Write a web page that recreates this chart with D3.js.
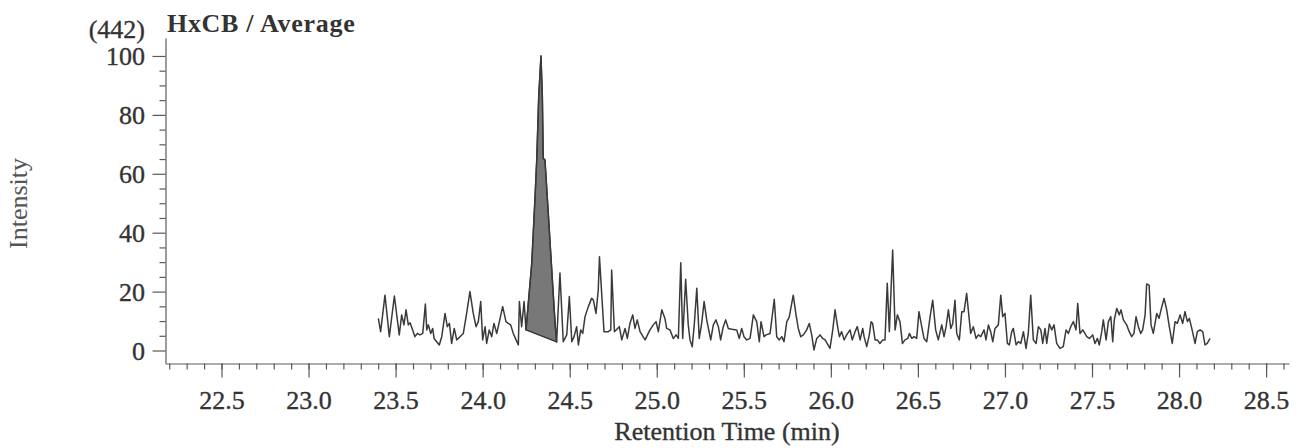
<!DOCTYPE html>
<html><head><meta charset="utf-8">
<script src="https://cdn.jsdelivr.net/npm/d3@7"></script>
<style>
body{margin:0;background:#fff}
svg{display:block}
text{font-family:"Liberation Serif","Times New Roman",serif}
</style>
</head><body>
<svg id="c" width="1304" height="448"></svg>
<script>
// Retention times (min) of the trace vertices
const times = [
23.401,23.414,23.439,23.464,23.493,23.521,23.535,23.548,23.560,23.573,
23.583,23.598,23.611,23.625,23.640,23.656,23.671,23.679,23.688,23.702,
23.713,23.721,23.736,23.751,23.765,23.784,23.797,23.809,23.822,23.837,
23.851,23.870,23.889,23.908,23.927,23.946,23.962,23.975,23.989,24.000,
24.014,24.023,24.038,24.052,24.065,24.081,24.096,24.115,24.134,24.147,
24.161,24.176,24.192,24.205,24.211,24.224,24.238,24.249,24.282,24.301,
24.311,24.322,24.335,24.343,24.348,24.358,24.377,24.397,24.416,24.425,
24.444,24.463,24.483,24.498,24.512,24.525,24.540,24.550,24.563,24.575,
24.588,24.607,24.626,24.636,24.651,24.664,24.671,24.697,24.722,24.736,
24.741,24.757,24.785,24.799,24.818,24.831,24.846,24.862,24.875,24.888,
24.904,24.933,24.961,24.980,24.996,25.009,25.029,25.047,25.057,25.076,
25.095,25.111,25.124,25.138,25.149,25.166,25.181,25.191,25.204,25.216,
25.230,25.244,25.258,25.272,25.287,25.310,25.325,25.340,25.354,25.367,
25.382,25.396,25.411,25.431,25.459,25.474,25.488,25.501,25.517,25.536,
25.555,25.574,25.589,25.599,25.616,25.628,25.651,25.675,25.689,25.704,
25.718,25.731,25.747,25.761,25.784,25.800,25.813,25.827,25.842,25.861,
25.876,25.890,25.903,25.919,25.938,25.953,25.967,25.995,26.011,26.024,
26.037,26.049,26.062,26.076,26.091,26.110,26.123,26.139,26.152,26.168,
26.183,26.191,26.206,26.221,26.231,26.240,26.254,26.267,26.282,26.298,
26.311,26.324,26.336,26.355,26.369,26.382,26.397,26.411,26.426,26.442,
26.451,26.465,26.478,26.493,26.506,26.522,26.535,26.551,26.570,26.585,
26.602,26.617,26.637,26.650,26.662,26.675,26.689,26.700,26.713,26.723,
26.738,26.752,26.765,26.780,26.803,26.818,26.834,26.847,26.861,26.880,
26.891,26.905,26.918,26.930,26.943,26.962,26.976,26.987,27.000,27.014,
27.025,27.039,27.048,27.064,27.077,27.091,27.106,27.121,27.134,27.148,
27.163,27.179,27.192,27.206,27.217,27.230,27.240,27.255,27.269,27.282,
27.297,27.316,27.335,27.351,27.364,27.378,27.393,27.408,27.418,27.431,
27.447,27.470,27.485,27.504,27.517,27.531,27.542,27.556,27.565,27.581,
27.594,27.608,27.619,27.628,27.642,27.657,27.667,27.680,27.699,27.714,
27.728,27.741,27.753,27.766,27.780,27.791,27.805,27.814,27.828,27.839,
27.852,27.872,27.885,27.901,27.914,27.929,27.944,27.961,27.977,27.990,
28.006,28.021,28.034,28.048,28.059,28.073,28.092,28.105,28.121,28.136,
28.149,28.162,28.178
];
// Relative intensities (%) at those times
const intensities = [
10.9,6.4,18.8,4.7,18.5,5.3,12.1,8.7,13.8,8.7,
9.4,7.0,4.7,5.8,5.3,5.8,15.8,7.0,8.7,5.8,
7.5,4.1,3.0,1.9,4.7,12.6,8.1,9.2,2.4,7.5,
3.6,4.7,5.8,12.6,20.0,12.6,8.1,9.8,16.6,3.6,
8.1,2.4,7.0,4.7,9.2,5.8,9.8,14.9,9.8,9.2,
8.7,5.8,3.6,1.9,16.6,8.1,16.6,7.0,29.6,52.2,
65.3,86.2,100.0,86.2,65.3,64.7,46.6,27.3,9.2,2.9,
26.3,3.0,5.3,18.3,3.0,4.7,8.1,1.9,7.0,5.8,
11.5,14.9,17.7,17.1,12.6,20.5,31.8,6.4,6.4,7.0,
27.3,6.4,8.1,3.6,7.5,4.1,9.2,12.1,7.5,10.4,
6.4,3.6,7.0,8.7,9.8,6.4,13.8,10.9,7.5,7.0,
4.1,5.3,4.1,29.8,4.1,24.2,8.7,3.6,1.3,9.2,
21.1,4.1,9.2,16.6,10.4,3.6,8.7,10.4,8.1,3.6,
8.1,10.4,7.5,7.2,7.0,4.1,7.5,4.7,3.6,4.1,
12.1,9.8,3.0,9.8,4.7,5.3,5.8,17.4,4.7,3.6,
4.7,3.0,9.8,11.3,18.8,12.1,7.5,4.7,5.3,7.0,
9.2,5.3,0.2,4.1,5.3,4.1,3.6,0.7,7.0,13.8,
8.7,4.7,6.4,3.6,5.3,7.0,3.6,6.4,8.1,3.6,
7.5,4.7,1.3,5.3,9.8,9.2,3.6,3.6,2.4,3.6,
3.6,22.8,6.4,34.1,7.0,12.1,9.8,2.4,3.6,4.1,
5.8,4.1,4.7,4.1,13.2,8.1,4.1,3.0,11.5,17.1,
7.0,3.6,8.7,4.7,8.1,13.8,7.5,9.2,17.1,5.8,
3.6,13.2,13.2,19.4,5.8,8.1,4.1,5.3,4.7,7.0,
3.6,8.7,6.4,3.0,7.5,8.7,18.8,11.5,12.6,2.4,
1.9,6.4,7.5,1.9,3.0,2.4,6.4,0.7,5.8,18.8,
3.6,2.4,8.1,7.0,2.4,7.5,2.4,9.0,7.0,8.7,
2.4,0.7,1.3,7.0,5.8,8.1,9.8,7.0,16.0,5.8,
7.0,4.7,4.1,5.3,2.4,4.1,1.9,6.4,10.4,3.6,
9.8,11.5,3.0,10.4,14.3,12.1,13.8,10.4,8.7,6.4,
4.7,5.8,11.5,8.1,5.8,7.0,12.1,22.6,22.2,8.7,
5.8,12.6,10.9,14.9,17.7,13.8,8.1,2.4,9.8,9.2,
12.1,9.2,13.2,9.8,10.9,7.5,2.4,6.4,7.0,6.4,
1.9,2.4,4.1
];
// Integrated peak window (min)
const peakStart = 24.249, peakEnd = 24.425;
// Tick values
const xMajorTicks = [22.5,23.0,23.5,24.0,24.5,25.0,25.5,26.0,26.5,27.0,27.5,28.0,28.5];
const xMinorTicks = d3.range(222, 287).map(d => d / 10);
const yMajorTicks = [0,20,40,60,80,100];
const yMinorTicks = d3.range(0, 100, 5).filter(d => d % 20 !== 0);
// Texts
const ionLabel = "(442)";
const titleText = "HxCB / Average";
const xTitle = "Retention Time (min)";
const yTitle = "Intensity";

const data = times.map((t, i) => ({t, v: intensities[i]}));
const svg = d3.select("#c");
const x = d3.scaleLinear().domain([22.1755, 28.6315]).range([165, 1289]);
const y = d3.scaleLinear().domain([-4.24, 106.1]).range([363, 38]);

const axisColor = "#5a5a5a", textColor = "#333";

// X axis: minor ticks + domain line
svg.append("g").attr("transform", "translate(0,363.5)")
  .call(d3.axisBottom(x).tickValues(xMinorTicks).tickSize(6).tickSizeOuter(0).tickFormat(""));
const gxMajor = svg.append("g").attr("transform", "translate(0,363.5)")
  .call(d3.axisBottom(x).tickValues(xMajorTicks).tickSize(14).tickSizeOuter(0).tickFormat(d3.format(".1f")));
gxMajor.select(".domain").remove();
gxMajor.selectAll("text").attr("y", 45.5).attr("dy", null)
  .style("font-size", "26px").attr("fill", textColor)
  .attr("stroke", textColor).attr("stroke-width", 0.35);

// Y axis
svg.append("g").attr("transform", "translate(165.5,0)")
  .call(d3.axisLeft(y).tickValues(yMinorTicks).tickSize(6).tickSizeOuter(0).tickFormat(""));
const gyMajor = svg.append("g").attr("transform", "translate(165.5,0)")
  .call(d3.axisLeft(y).tickValues(yMajorTicks).tickSize(13).tickSizeOuter(0).tickFormat(d3.format("d")));
gyMajor.select(".domain").remove();
gyMajor.selectAll("text").attr("x", -20.5).attr("dy", "0.33em")
  .style("font-size", "26px").attr("fill", textColor)
  .attr("stroke", textColor).attr("stroke-width", 0.35);

svg.selectAll(".domain, .tick line").attr("stroke", axisColor).attr("stroke-width", 1.2);

// Integrated peak area (closed path -> straight baseline)
const peakPts = data.filter(d => d.t >= peakStart && d.t <= peakEnd);
const line = d3.line().x(d => x(d.t)).y(d => y(d.v));
svg.append("path").attr("d", line(peakPts) + "Z")
  .attr("fill", "#787878").attr("stroke", "#333").attr("stroke-width", 1.3)
  .attr("stroke-linejoin", "round");

// Trace
svg.append("path").datum(data).attr("d", line)
  .attr("fill", "none").attr("stroke", "#3a3a3a").attr("stroke-width", 1.5)
  .attr("stroke-linejoin", "round");

// Titles
svg.append("text").attr("x", 145).attr("y", 38).attr("text-anchor", "end")
  .style("font-size", "26px").attr("fill", textColor)
  .attr("stroke", textColor).attr("stroke-width", 0.35).text(ionLabel);
svg.append("text").attr("x", 167).attr("y", 32)
  .style("font-size", "26px").style("font-weight", "bold").style("letter-spacing", "0.7px")
  .attr("fill", textColor).text(titleText);
svg.append("text").attr("x", (165 + 1289) / 2).attr("y", 440).attr("text-anchor", "middle")
  .style("font-size", "26px").attr("fill", textColor)
  .attr("stroke", textColor).attr("stroke-width", 0.35).text(xTitle);
svg.append("text").attr("transform", "translate(27,203.5) rotate(-90)").attr("text-anchor", "middle")
  .style("font-size", "26px").attr("fill", "#555").text(yTitle);
</script>
</body></html>
